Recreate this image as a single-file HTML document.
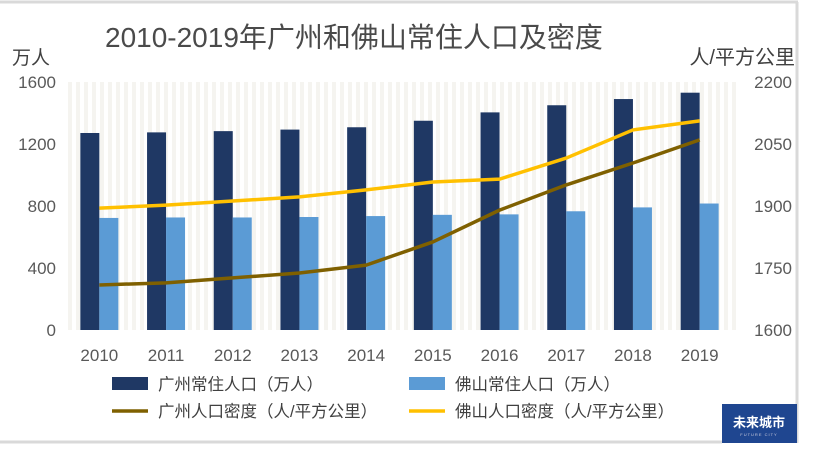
<!DOCTYPE html>
<html><head><meta charset="utf-8"><style>
body{margin:0;background:#fff;}
svg{display:block;font-family:"Liberation Sans","Noto Sans CJK SC",sans-serif;}
</style></head><body>
<svg id="chart" width="832" height="458" viewBox="0 0 832 458">
<line x1="0" y1="2" x2="798" y2="2" stroke="#d9d9d9" stroke-width="3"/>
<line x1="797" y1="2" x2="797" y2="443" stroke="#d9d9d9" stroke-width="3"/>
<line x1="0" y1="442" x2="722" y2="442" stroke="#d9d9d9" stroke-width="3"/>
<g id="stripes"></g>
<text x="105" y="47" font-size="28" fill="#4a4a4a">2010-2019年广州和佛山常住人口及密度</text>
<text x="12" y="64" font-size="19" fill="#404040">万人</text>
<text x="795" y="64" font-size="20" fill="#404040" text-anchor="end">人/平方公里</text>
<g id="ticks"></g>
<g id="bars"></g>
<g id="lines"></g>
<g>
<rect x="112" y="377" width="36" height="13" fill="#1f3864"/>
<text x="158" y="390" font-size="16.5" fill="#404040">广州常住人口（万人）</text>
<rect x="409" y="377" width="36" height="13" fill="#5b9bd5"/>
<text x="455" y="390" font-size="16.5" fill="#404040">佛山常住人口（万人）</text>
<line x1="112" y1="411" x2="148" y2="411" stroke="#7f6000" stroke-width="3.5"/>
<text x="158" y="417" font-size="16.5" fill="#404040">广州人口密度（人/平方公里）</text>
<line x1="409" y1="411" x2="445" y2="411" stroke="#ffc000" stroke-width="3.5"/>
<text x="455" y="417" font-size="16.5" fill="#404040">佛山人口密度（人/平方公里）</text>
</g>
<g>
<rect x="722" y="404" width="75" height="39" fill="#1f4690"/>
<text x="759" y="427" font-size="13" fill="#fff" text-anchor="middle" font-weight="bold">未来城市</text>
<text x="759" y="436" font-size="4" fill="#ccd" text-anchor="middle" letter-spacing="1">FUTURE CITY</text>
</g>
</svg>
<script>
const years=["2010","2011","2012","2013","2014","2015","2016","2017","2018","2019"];
const gzPop=[1271,1275,1283,1293,1308,1350,1404,1450,1490,1531];
const fsPop=[723,726,726,729,735,743,746,766,791,816];
const gzDensity=[1709,1714,1726,1738,1757,1813,1890,1951,2004,2060];
const fsDensity=[1895,1902,1912,1922,1939,1958,1965,2016,2084,2106];
const leftTicks=[0,400,800,1200,1600];
const rightTicks=[1600,1750,1900,2050,2200];
const NS="http://www.w3.org/2000/svg";
const yTop=82,yBot=330,x0=66,x1=733;
const yL=v=>yBot-(v/1600)*(yBot-yTop);
const yR=v=>yBot-((v-1600)/600)*(yBot-yTop);
const band=(x1-x0)/years.length;
const xc=i=>x0+band*(i+0.5);
function mk(tag,attrs,parent){const e=document.createElementNS(NS,tag);for(const k in attrs)e.setAttribute(k,attrs[k]);document.getElementById(parent).appendChild(e);return e;}
for(let x=68;x<x1;x+=8){
 const s=mk('rect',{x:x,y:yTop,width:4,height:yBot-yTop,fill:'#f5f4f0'},'stripes');
 
 
}
leftTicks.forEach(v=>{
 const t=mk('text',{x:56,y:yL(v)+6,'font-size':17,fill:'#595959','text-anchor':'end'},'ticks');t.textContent=v;
 
 
});
rightTicks.forEach(v=>{
 const t=mk('text',{x:792,y:yR(v)+6,'font-size':17,fill:'#595959','text-anchor':'end'},'ticks');t.textContent=v;
 
 
});
years.forEach((y,i)=>{
 const t=mk('text',{x:xc(i),y:361,'font-size':17,fill:'#595959','text-anchor':'middle'},'ticks');t.textContent=y;
 
 
 const b1=mk('rect',{x:xc(i)-19,y:yL(gzPop[i]),width:19,height:yBot-yL(gzPop[i]),fill:'#1f3864'},'bars');
 
 
 const b2=mk('rect',{x:xc(i),y:yL(fsPop[i]),width:19,height:yBot-yL(fsPop[i]),fill:'#5b9bd5'},'bars');
 
 
});
const p1=mk('polyline',{points:gzDensity.map((v,i)=>xc(i)+','+yR(v)).join(' '),fill:'none',stroke:'#7f6000','stroke-width':3.5,'stroke-linejoin':'round'},'lines');


const p2=mk('polyline',{points:fsDensity.map((v,i)=>xc(i)+','+yR(v)).join(' '),fill:'none',stroke:'#ffc000','stroke-width':3.5,'stroke-linejoin':'round'},'lines');


</script>
</body></html>
